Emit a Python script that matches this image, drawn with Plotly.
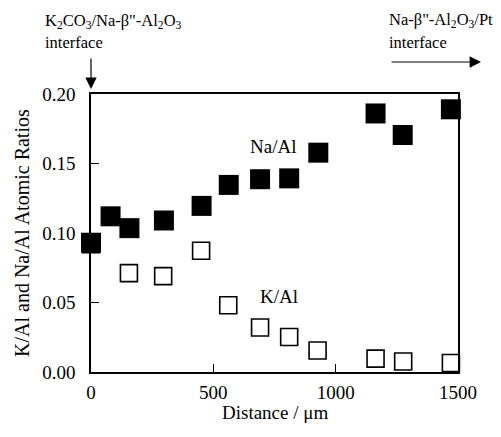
import plotly.graph_objects as go

# Data
na_x = [0, 80, 157, 298, 452, 563, 691, 810, 929, 1163, 1274, 1471]
na_y = [0.093, 0.112, 0.1035, 0.109, 0.1195, 0.1346, 0.1387, 0.1393, 0.1578, 0.186, 0.1705, 0.189]

k_x = [0, 155, 295, 450, 561, 691, 810, 926, 1163, 1276, 1471]
k_y = [0.092, 0.0711, 0.069, 0.0872, 0.048, 0.032, 0.0252, 0.0155, 0.0096, 0.0076, 0.0065]

x_ticks = [0, 500, 1000, 1500]
y_ticks = [0.00, 0.05, 0.10, 0.15, 0.20]

FONT = "Times New Roman, Liberation Serif, serif"

fig = go.Figure()
fig.add_trace(go.Scatter(
    x=k_x, y=k_y, mode="markers", name="K/Al", cliponaxis=False,
    marker=dict(symbol="square", size=17, color="white",
                line=dict(color="black", width=1.6)),
))
fig.add_trace(go.Scatter(
    x=na_x, y=na_y, mode="markers", name="Na/Al", cliponaxis=False,
    marker=dict(symbol="square", size=20, color="black",
                line=dict(color="black", width=0)),
))

fig.update_layout(
    width=501, height=437,
    margin=dict(l=91, r=43, t=94, b=65, autoexpand=False),
    paper_bgcolor="white", plot_bgcolor="white",
    showlegend=False,
    font=dict(family=FONT, color="black", size=18),
    xaxis=dict(
        range=[0, 1500], tickvals=x_ticks, ticktext=[str(v) for v in x_ticks],
        ticks="inside", ticklen=8, tickwidth=1.2, tickcolor="black",
        showline=True, linecolor="black", linewidth=1.5, mirror=True,
        showgrid=False, zeroline=False, automargin=False,
        tickfont=dict(family=FONT, size=19),
        ticklabelstandoff=2,
    ),
    yaxis=dict(
        range=[0, 0.2], tickvals=y_ticks, ticktext=[f"{v:.2f}" for v in y_ticks],
        ticks="inside", ticklen=8, tickwidth=1.2, tickcolor="black",
        showline=True, linecolor="black", linewidth=1.5, mirror=True,
        showgrid=False, zeroline=False, automargin=False,
        tickfont=dict(family=FONT, size=19),
        ticklabelstandoff=10,
    ),
)

# paper coords: x 0..1 -> px 91..458, y 0..1 -> px 372..94
def px_x(p):
    return (p - 91) / 367.0

def px_y(p):
    return (372 - p) / 278.0

# Axis titles
fig.add_annotation(x=px_x(275), y=px_y(412), xref="paper", yref="paper",
                   text="Distance / μm", showarrow=False,
                   xanchor="center", yanchor="middle",
                   font=dict(family=FONT, size=19))
fig.add_annotation(x=px_x(22), y=px_y(233), xref="paper", yref="paper",
                   text="K/Al and Na/Al Atomic Ratios", showarrow=False, textangle=-90,
                   xanchor="center", yanchor="middle",
                   font=dict(family=FONT, size=20))

# Series labels
fig.add_annotation(x=px_x(273), y=px_y(146), xref="paper", yref="paper", text="Na/Al",
                   showarrow=False, xanchor="center", yanchor="middle",
                   font=dict(family=FONT, size=19))
fig.add_annotation(x=px_x(279), y=px_y(296), xref="paper", yref="paper", text="K/Al",
                   showarrow=False, xanchor="center", yanchor="middle",
                   font=dict(family=FONT, size=19))

# Top annotations
fig.add_annotation(x=px_x(43), y=px_y(21), xref="paper", yref="paper",
                   text="K<sub>2</sub>CO<sub>3</sub>/Na-β\"-Al<sub>2</sub>O<sub>3</sub>",
                   xanchor="left", yanchor="middle", showarrow=False,
                   font=dict(family=FONT, size=16.5))
fig.add_annotation(x=px_x(43), y=px_y(42), xref="paper", yref="paper",
                   text="interface", xanchor="left", yanchor="middle", showarrow=False,
                   font=dict(family=FONT, size=16.5))
fig.add_annotation(x=px_x(387), y=px_y(20), xref="paper", yref="paper",
                   text="Na-β\"-Al<sub>2</sub>O<sub>3</sub>/Pt",
                   xanchor="left", yanchor="middle", showarrow=False,
                   font=dict(family=FONT, size=16.5))
fig.add_annotation(x=px_x(387), y=px_y(42), xref="paper", yref="paper",
                   text="interface", xanchor="left", yanchor="middle", showarrow=False,
                   font=dict(family=FONT, size=16.5))

# Arrows
fig.add_annotation(x=px_x(91), y=px_y(89), xref="paper", yref="paper", text="",
                   showarrow=True, ax=0, ay=-32, arrowhead=2, arrowsize=1.9,
                   arrowwidth=1.2, arrowcolor="black")
fig.add_annotation(x=px_x(481), y=px_y(62), xref="paper", yref="paper", text="",
                   showarrow=True, ax=-91, ay=0, arrowhead=2, arrowsize=1.9,
                   arrowwidth=1.2, arrowcolor="black")

fig.write_html("out.html", config={"displayModeBar": False},
               post_script="document.body.style.margin='0';document.body.style.overflow='hidden';")
